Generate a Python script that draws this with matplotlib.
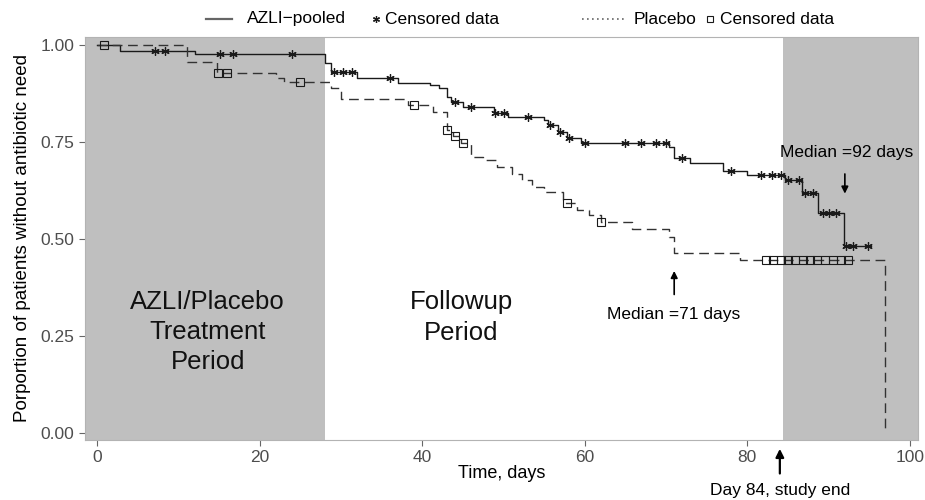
import numpy as np
import matplotlib.pyplot as plt
from matplotlib.lines import Line2D

plt.rcParams['font.family'] = ['Liberation Sans', 'DejaVu Sans']

# Kaplan-Meier steps (day, proportion after the step)
azli_t = [0, 2.8, 12, 28, 28.8, 32, 37, 41, 42, 43, 43.5, 45, 48.8, 50.5, 55, 55.5,
          56.7, 57.8, 59.5, 70.3, 71, 73, 77, 80, 84.6, 86.7, 88.7, 91.9, 95.2]
azli_s = [1.0, 0.985, 0.977, 0.953, 0.930, 0.915, 0.902, 0.897, 0.889, 0.866, 0.853,
          0.840, 0.825, 0.815, 0.807, 0.794, 0.776, 0.760, 0.747, 0.737, 0.709, 0.696,
          0.675, 0.665, 0.652, 0.619, 0.567, 0.482, 0.482]
azli_cens = [7.1, 8.3, 15.1, 16.7, 24, 29.1, 30.2, 31.3, 36, 44, 46, 49, 50, 53, 55.7,
             57, 58, 60, 65, 66.9, 68.8, 70.0, 72, 78, 81.7, 83, 84.2, 85, 86.3, 87.1,
             88.1, 89.3, 90.1, 90.9, 92.2, 93, 94.8]

plac_t = [0, 11, 14.7, 22, 23, 28.8, 30, 38.2, 41.3, 43, 43.8, 44.8, 46, 47.5, 49.2,
          51, 52.3, 53.5, 55, 57.3, 59, 60.5, 62, 65.8, 70.3, 71, 79.1, 97]
plac_s = [1.0, 0.956, 0.928, 0.915, 0.905, 0.889, 0.861, 0.845, 0.827, 0.781, 0.765,
          0.747, 0.711, 0.704, 0.686, 0.668, 0.652, 0.634, 0.621, 0.593, 0.575, 0.562,
          0.544, 0.526, 0.505, 0.464, 0.447, 0.0]
plac_cens = [0.8, 14.9, 16, 25, 39, 43.1, 44, 45, 57.8, 62, 82.3, 83.2, 84.1, 85, 85.9,
             86.8, 87.7, 88.6, 89.5, 90.5, 91.5, 92.4]

treat_end = 28
study_end = 84.4
median_azli = 92
median_plac = 71


def surv_at(t, times, surv):
    times = np.asarray(times)
    idx = np.searchsorted(times, t, side="right") - 1
    return np.asarray(surv)[idx]


fig = plt.figure(figsize=(9.25, 5), dpi=100)
ax = fig.add_axes([85 / 925, 1 - 440 / 500, 833 / 925, 403 / 500])
ax.set_xlim(-1.5, 101)
ax.set_ylim(-0.018, 1.021)

ax.axvspan(-5, treat_end, color="#bfbfbf", lw=0, zorder=0)
ax.axvspan(study_end, 110, color="#bfbfbf", lw=0, zorder=0)

ink = "#1a1a1a"
ax.step(azli_t, azli_s, where="post", color=ink, lw=1.0)
ax.step(plac_t, plac_s, where="post", color="#333333", lw=1.0, ls=(0, (7, 4)))
ax.plot(azli_cens, surv_at(azli_cens, azli_t, azli_s), ls="none",
        marker=(6, 2, 0), ms=6, mew=0.9, color=ink)
ax.plot(plac_cens, surv_at(plac_cens, plac_t, plac_s), ls="none",
        marker="s", ms=5.5, mew=0.8, mfc="none", mec=ink)

# period labels
ax.text(13.6, 0.26, "AZLI/Placebo\nTreatment\nPeriod", ha="center", va="center",
        fontsize=18.5, linespacing=1.33, color="#111111")
ax.text(44.8, 0.298, "Followup\nPeriod", ha="center", va="center",
        fontsize=18.5, linespacing=1.33, color="#111111")

# medians
arrow = dict(arrowstyle="-|>", color="black", lw=1.2, mutation_scale=10)
ax.annotate("", xy=(median_azli, 0.61), xytext=(median_azli, 0.675), arrowprops=arrow)
ax.text(median_azli + 0.2, 0.724, "Median =92 days", ha="center", va="center", fontsize=12.5)
ax.annotate("", xy=(median_plac, 0.425), xytext=(median_plac, 0.35), arrowprops=arrow)
ax.text(median_plac - 0.1, 0.305, "Median =71 days", ha="center", va="center", fontsize=12.5)

# study end marker below the axis
ax.annotate("", xy=(84, -0.015), xytext=(84, -0.09),
            xycoords=("data", "axes fraction"), textcoords=("data", "axes fraction"),
            arrowprops=dict(arrowstyle="-|>", color="black", lw=1.6, mutation_scale=12),
            annotation_clip=False)
ax.text(84, -0.125, "Day 84, study end", transform=ax.get_xaxis_transform(),
        ha="center", va="center", fontsize=12.5)

ax.set_xticks([0, 20, 40, 60, 80, 100])
ax.set_yticks([0, 0.25, 0.5, 0.75, 1.0])
ax.set_yticklabels(["0.00", "0.25", "0.50", "0.75", "1.00"])
ax.tick_params(colors="#666666", labelcolor="#4d4d4d", labelsize=12.5, length=4)
for s in ax.spines.values():
    s.set_color("#b3b3b3")
    s.set_linewidth(0.8)
ax.set_xlabel("Time, days", fontsize=13, labelpad=0)
ax.set_ylabel("Porportion of patients without antibiotic need", fontsize=13.5, labelpad=7)

# legend, drawn by hand to keep the gap between the two groups
ly = 1 - 19 / 500
fig.add_artist(Line2D([206 / 925, 232 / 925], [ly, ly], color="#666666", lw=1.6))
fig.text(247 / 925, ly, "AZLI\u2212pooled", ha="left", va="center", fontsize=12.5)
fig.add_artist(Line2D([376 / 925], [ly], ls="none", marker=(6, 2, 0), ms=5, mew=0.9, color=ink))
fig.text(385 / 925, ly, "Censored data", ha="left", va="center", fontsize=12.5)
fig.add_artist(Line2D([582 / 925, 624 / 925], [ly, ly], color="#666666", lw=1.2, ls=(0, (1, 2))))
fig.text(634 / 925, ly, "Placebo", ha="left", va="center", fontsize=12.5)
fig.add_artist(Line2D([710 / 925], [ly], ls="none", marker="s", ms=5, mew=0.8, mfc="none", mec=ink))
fig.text(720 / 925, ly, "Censored data", ha="left", va="center", fontsize=12.5)

fig.savefig("out.png", dpi=100)
